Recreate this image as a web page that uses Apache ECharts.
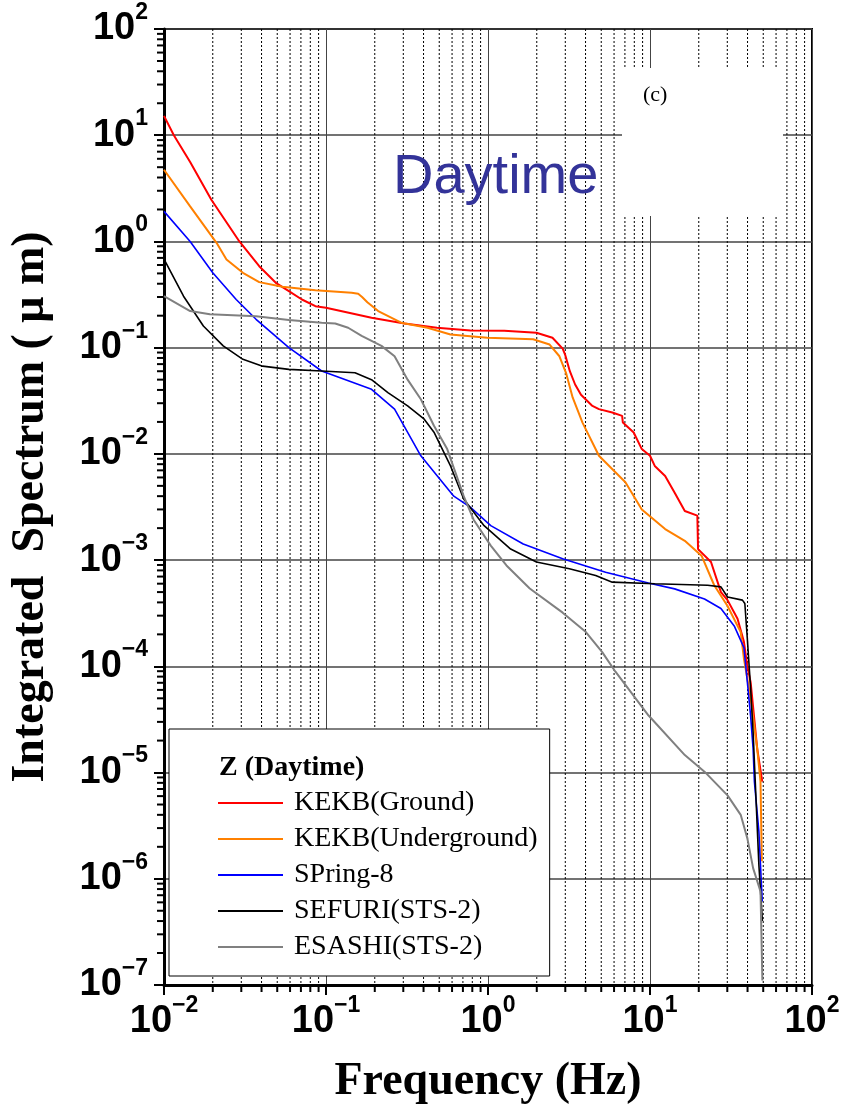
<!DOCTYPE html>
<html>
<head>
<meta charset="utf-8">
<script src="https://cdn.jsdelivr.net/npm/echarts@6/dist/echarts.min.js"></script>
<style>
  html, body { margin: 0; padding: 0; background: #fff; }
  #chart { width: 843px; height: 1110px; }
</style>
</head>
<body>
<div id="chart"></div>
<script>
// series names, as in the legend
var names = ['KEKB(Ground)', 'KEKB(Underground)', 'SPring-8', 'SEFURI(STS-2)', 'ESASHI(STS-2)'];

// [frequency (Hz), integrated spectrum (um)]
var kekbGround = [
  [0.01, 15.2], [0.0115, 10], [0.0145, 5.6], [0.0196, 2.47], [0.0292, 1.0], [0.0387, 0.585], [0.049, 0.408],
  [0.059, 0.34], [0.071, 0.284], [0.086, 0.246], [0.1, 0.238], [0.191, 0.191], [0.305, 0.169],
  [0.484, 0.154], [0.78, 0.145], [1.26, 0.144], [1.99, 0.138], [2.5, 0.124], [2.89, 0.098],
  [3.0, 0.085], [3.2, 0.06], [3.45, 0.045], [3.75, 0.036], [4.38, 0.0285], [4.84, 0.0264],
  [5.85, 0.0245], [6.73, 0.0228], [6.8, 0.0197], [7.93, 0.0159], [8.9, 0.0111], [10.0, 0.0096],
  [10.7, 0.0077], [12.4, 0.0062], [14.2, 0.0043], [16.4, 0.0029], [19.6, 0.00262], [19.8, 0.00127],
  [23.8, 0.00096], [27.4, 0.0005], [30.1, 0.00042], [34.7, 0.00028], [38.0, 0.00017],
  [39.9, 0.0001], [41.8, 7.1e-5], [45.9, 1.68e-5], [49.3, 8.2e-6]
];
var kekbUnderground = [
  [0.01, 4.73], [0.0145, 2.14], [0.0211, 0.97], [0.0243, 0.676], [0.0307, 0.507], [0.0387, 0.414],
  [0.0538, 0.374], [0.086, 0.348], [0.144, 0.329], [0.158, 0.322], [0.167, 0.3], [0.18, 0.268],
  [0.21, 0.221], [0.291, 0.172], [0.423, 0.154], [0.587, 0.133], [0.99, 0.124], [1.9, 0.12], [2.4, 0.107],
  [2.76, 0.083], [3.03, 0.058], [3.33, 0.034], [3.83, 0.0197], [4.84, 0.0096], [7.05, 0.0054],
  [8.9, 0.003], [12.4, 0.00196], [16.4, 0.00152], [20.8, 0.0011], [24.9, 0.00058], [30.1, 0.00037],
  [36.3, 0.00021], [38.0, 0.000118], [41.8, 5e-5], [45.9, 1.68e-5], [48.1, 8.2e-6], [49.0, 1.46e-6]
];
var spring8 = [
  [0.01, 1.92], [0.0145, 1.0], [0.02, 0.507], [0.0279, 0.284], [0.037, 0.185], [0.059, 0.1],
  [0.094, 0.0603], [0.191, 0.0405], [0.265, 0.0264], [0.385, 0.0096], [0.615, 0.004], [0.78, 0.00314],
  [1.04, 0.00211], [1.65, 0.00142], [2.89, 0.00103], [5.32, 0.00077], [9.77, 0.00061], [14.2, 0.000536],
  [21.7, 0.00043], [27.4, 0.00035], [33.1, 0.00024], [38.0, 0.00015], [39.9, 7.1e-5], [41.8, 3.4e-5],
  [43.3, 1.68e-5], [44.1, 8.2e-6], [47.0, 2.8e-6], [49.3, 6.1e-7]
];
var sefuri = [
  [0.01, 0.68], [0.0132, 0.305], [0.0175, 0.16], [0.0232, 0.104], [0.0307, 0.0776], [0.0406, 0.067],
  [0.059, 0.0625], [0.094, 0.0603], [0.151, 0.058], [0.191, 0.05], [0.241, 0.0378], [0.319, 0.0283],
  [0.404, 0.0212], [0.464, 0.016], [0.535, 0.0103], [0.587, 0.0077], [0.708, 0.00376], [0.946, 0.00211],
  [1.38, 0.00127], [1.99, 0.00096], [3.18, 0.00083], [4.62, 0.000715], [5.85, 0.00062], [10.7, 0.0006],
  [22.7, 0.00058], [27.4, 0.00056], [30.1, 0.00045], [37.2, 0.00042], [38.5, 0.00039], [39.9, 0.00018],
  [41.8, 6.2e-5], [43.3, 2.4e-5], [47.0, 1.35e-6], [49.4, 4e-7]
];
var esashi = [
  [0.01, 0.305], [0.0145, 0.221], [0.0192, 0.206], [0.037, 0.198], [0.059, 0.182], [0.094, 0.172],
  [0.114, 0.169], [0.137, 0.154], [0.166, 0.129], [0.22, 0.104], [0.265, 0.083], [0.319, 0.05],
  [0.385, 0.0327], [0.464, 0.0184], [0.56, 0.0111], [0.708, 0.004], [0.815, 0.0024], [1.04, 0.00137],
  [1.3, 0.00089], [1.81, 0.00054], [2.89, 0.00032], [4.02, 0.00021], [5.07, 0.000136], [6.12, 8.9e-5],
  [9.77, 3.46e-5], [16.4, 1.46e-5], [21.7, 1.02e-5], [30.1, 6.1e-6], [36.3, 4e-6], [39.9, 2.4e-6],
  [43.3, 1.26e-6], [48.1, 7.6e-7], [49.4, 1.1e-7]
];

// axis ranges and minor tick positions (2..9 in each decade)
var xRange = [0.01, 100];
var yRange = [1e-7, 100];
var xMinor = [0.02, 0.03, 0.04, 0.05, 0.06, 0.07, 0.08, 0.09,
  0.2, 0.3, 0.4, 0.5, 0.6, 0.7, 0.8, 0.9,
  2, 3, 4, 5, 6, 7, 8, 9,
  20, 30, 40, 50, 60, 70, 80, 90];
var yMinor = [];
for (var d = -7; d < 2; d++) {
  for (var k = 2; k <= 9; k++) yMinor.push(k * Math.pow(10, d));
}

var colors = ['#ff0000', '#ff8000', '#0000ff', '#000000', '#808080'];
var widths = [2, 2, 1.6, 1.6, 2];
var seriesData = [kekbGround, kekbUnderground, spring8, sefuri, esashi];

var chart = echarts.init(document.getElementById('chart'));

function powLabel(v) {
  var e = Math.round(Math.log10(v));
  return '{b|10}{e|' + String(e).replace('-', '\u2212') + '}';
}
var labelRich = {
  b: { fontSize: 38, fontWeight: 'bold', fontFamily: 'Liberation Sans', color: '#000', lineHeight: 56 },
  e: { fontSize: 23, fontWeight: 'bold', fontFamily: 'Liberation Sans', color: '#000', lineHeight: 24, verticalAlign: 'top' }
};

var lineSeries = names.map(function (name, i) {
  return {
    name: name,
    type: 'line',
    data: seriesData[i],
    symbol: 'none',
    showSymbol: false,
    z: 3,
    lineStyle: { color: colors[i], width: widths[i] },
    itemStyle: { color: colors[i] }
  };
});

// dotted minor grid + outward minor ticks on the bottom axis
var xMinorSeries = {
  type: 'custom',
  z: 1,
  silent: true,
  data: xMinor.map(function (v) { return [v, 1]; }),
  renderItem: function (params, api) {
    var top = api.coord([api.value(0), yRange[1]]);
    var bot = api.coord([api.value(0), yRange[0]]);
    return {
      type: 'group',
      children: [
        { type: 'line', shape: { x1: top[0], y1: top[1], x2: bot[0], y2: bot[1] },
          style: { stroke: '#000', lineWidth: 1, lineDash: [2, 2] } },
        { type: 'line', shape: { x1: bot[0], y1: bot[1], x2: bot[0], y2: bot[1] + 7 },
          style: { stroke: '#000', lineWidth: 2 } }
      ]
    };
  }
};
// outward minor ticks on the left axis
var yMinorSeries = {
  type: 'custom',
  z: 1,
  silent: true,
  data: yMinor.map(function (v) { return [1, v]; }),
  renderItem: function (params, api) {
    var p = api.coord([xRange[0], api.value(1)]);
    return { type: 'line', shape: { x1: p[0] - 7, y1: p[1], x2: p[0], y2: p[1] },
      style: { stroke: '#000', lineWidth: 2 } };
  }
};

chart.setOption({
  animation: false,
  backgroundColor: '#fff',
  grid: { left: 157, top: 29, right: 31, bottom: 123, show: true, borderColor: '#000', borderWidth: 2 },
  title: [
    { text: 'Daytime', left: 393, top: 150, padding: 0,
      textStyle: { fontFamily: 'Liberation Sans', fontWeight: 'normal', fontSize: 56, color: '#333399' } },
    { text: '(c)', left: 643, top: 84, padding: 0,
      textStyle: { fontFamily: 'Liberation Serif', fontWeight: 'normal', fontSize: 22, color: '#000' } },
    { text: 'Z (Daytime)', left: 219, top: 754, padding: 0,
      textStyle: { fontFamily: 'Liberation Serif', fontWeight: 'bold', fontSize: 28, color: '#000' } }
  ],
  graphic: [
    { type: 'rect', z: 5, silent: true, shape: { x: 622, y: 68, width: 161, height: 148 }, style: { fill: '#fff' } }
  ],
  legend: {
    data: names,
    orient: 'vertical',
    left: 169,
    top: 729,
    padding: [60, 12, 15, 49],
    icon: 'rect',
    itemWidth: 65,
    itemHeight: 2,
    itemGap: 8,
    backgroundColor: '#fff',
    borderColor: '#000',
    borderWidth: 1,
    textStyle: { fontFamily: 'Liberation Serif', fontSize: 28, color: '#000', padding: [0, 0, 0, 6] }
  },
  xAxis: {
    type: 'log',
    logBase: 10,
    min: xRange[0],
    max: xRange[1],
    interval: 1,
    splitNumber: 4,
    name: 'Frequency (Hz)',
    nameLocation: 'middle',
    nameGap: 74,
    nameTextStyle: { fontFamily: 'Liberation Serif', fontWeight: 'bold', fontSize: 46, color: '#000' },
    axisLine: { lineStyle: { color: '#000', width: 3 } },
    axisTick: { length: 10, lineStyle: { color: '#000', width: 2 } },
    axisLabel: { margin: 9, formatter: powLabel, rich: labelRich },
    splitLine: { show: true, lineStyle: { color: '#444', width: 1 } }
  },
  yAxis: {
    type: 'log',
    logBase: 10,
    min: yRange[0],
    max: yRange[1],
    interval: 1,
    splitNumber: 9,
    name: 'Integrated  Spectrum ( \u03bc m)',
    nameLocation: 'middle',
    nameGap: 110,
    nameTextStyle: { fontFamily: 'Liberation Serif', fontWeight: 'bold', fontSize: 46, color: '#000' },
    axisLine: { lineStyle: { color: '#000', width: 3 } },
    axisTick: { length: 10, lineStyle: { color: '#000', width: 2 } },
    axisLabel: { margin: 16, formatter: powLabel, rich: labelRich },
    splitLine: { show: true, lineStyle: { color: '#444', width: 1.5 } }
  },
  series: lineSeries.concat([xMinorSeries, yMinorSeries])
});
</script>
</body>
</html>
